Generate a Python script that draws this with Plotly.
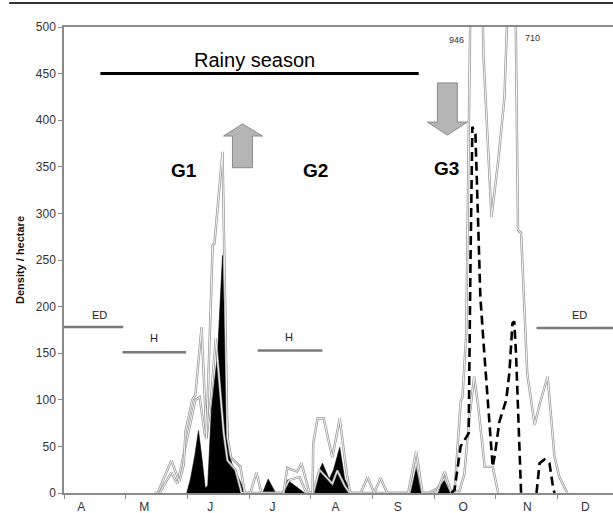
import plotly.graph_objects as go

# x values are in months since 1 April (0 = start of April, 1 = start of May, ...)
months = ["A", "M", "J", "J", "A", "S", "O", "N", "D"]
month_label_pos = [0.28, 1.30, 2.37, 3.38, 4.40, 5.41, 6.47, 7.51, 8.45]

total_x = [1.47, 1.52, 1.74, 1.87, 1.94, 1.97, 2.08, 2.13, 2.23, 2.31, 2.41, 2.44, 2.57, 2.65,
           2.71, 2.81, 2.86, 2.93, 3.02, 3.12, 3.20, 3.56, 3.62, 3.69, 3.78, 3.85, 3.98, 4.03,
           4.04, 4.11, 4.21, 4.35, 4.47, 4.58, 4.64, 4.81, 4.92, 5.03, 5.13, 5.24, 5.58, 5.71,
           5.81, 6.04, 6.17, 6.28, 6.33, 6.43, 6.46, 6.52, 6.67, 6.80, 6.93, 7.04, 7.14, 7.29,
           7.36, 7.41, 7.51, 7.63, 7.71, 7.84, 7.95, 8.03, 8.16]
total_y = [0, 0, 35, 12, 30, 66, 100, 105, 178, 60, 266, 268, 366, 60,
           38, 32, 28, 0, 0, 22, 0, 0, 27, 25, 23, 32, 0, 0,
           53, 80, 80, 38, 80, 22, 0, 0, 17, 0, 16, 0, 0, 45,
           0, 0, 23, 0, 0, 98, 103, 170, 946, 470, 296, 357, 424, 710,
           282, 279, 128, 73, 95, 125, 40, 17, 0]

second_x = [1.55, 1.74, 1.84, 1.95, 2.13, 2.20, 2.28, 2.31, 2.39, 2.46, 2.50, 2.59, 2.65, 2.78,
            2.88, 3.54, 3.65, 3.82, 3.93, 4.04, 4.14, 4.24, 4.35, 4.43, 4.55, 4.63, 5.60, 5.71,
            5.81, 5.92, 6.05, 6.17, 6.26, 6.41, 6.49, 6.57, 6.65, 6.72, 6.82, 6.95, 7.04]
second_y = [0, 22, 10, 45, 100, 103, 64, 58, 107, 166, 135, 64, 35, 25,
            0, 0, 14, 17, 0, 0, 25, 18, 10, 24, 8, 0, 0, 33,
            0, 0, 5, 16, 3, 2, 20, 80, 125, 90, 28, 28, 0]

black_x = [1.99, 2.05, 2.12, 2.18, 2.24, 2.29, 2.33, 2.39, 2.49, 2.57, 2.62, 2.67, 2.73, 2.80,
           2.86, 2.93, 3.22, 3.31, 3.43, 3.56, 3.62, 3.74, 3.90, 4.06, 4.11, 4.19, 4.30, 4.37,
           4.47, 4.55, 4.66, 5.60, 5.66, 5.71, 5.76, 5.81, 6.07, 6.13, 6.17, 6.22, 6.28]
black_y = [0, 15, 40, 67, 35, 5, 8, 90, 150, 255, 150, 43, 30, 20,
           12, 0, 0, 15, 0, 0, 14, 8, 0, 0, 20, 32, 15, 25,
           49, 15, 0, 0, 20, 27, 20, 0, 0, 12, 15, 10, 0]

dashed_x = [6.28, 6.33, 6.43, 6.56, 6.59, 6.62, 6.67, 6.75, 6.81, 6.93, 6.95, 6.98, 7.06, 7.17,
            7.22, 7.27, 7.30, 7.33, 7.41, None, 7.66, 7.71, 7.79, 7.87, 7.92, 7.95]
dashed_y = [0, 3, 50, 64, 250, 393, 385, 210, 153, 39, 28, 39, 77, 100,
            129, 182, 184, 146, 0, None, 0, 32, 36, 32, 10, 0]

GRAY = "#959595"
AXIS = "#8a8a8a"
FONT = "Arial, Liberation Sans, sans-serif"

fig = go.Figure()

fig.add_trace(go.Scatter(x=black_x, y=black_y, mode="lines", fill="tozeroy",
                         fillcolor="black", line=dict(color="black", width=0.6),
                         hoverinfo="skip"))
for xs, ys in [(second_x, second_y), (total_x, total_y)]:
    fig.add_trace(go.Scatter(x=xs, y=ys, mode="lines",
                             line=dict(color=GRAY, width=2.4), hoverinfo="skip"))
    fig.add_trace(go.Scatter(x=xs, y=ys, mode="lines",
                             line=dict(color="white", width=0.9), hoverinfo="skip"))
fig.add_trace(go.Scatter(x=dashed_x, y=dashed_y, mode="lines", connectgaps=False,
                         line=dict(color="black", width=2.6, dash="9px,5px"),
                         hoverinfo="skip"))

shapes = [
    # rainy season bar
    dict(type="line", x0=0.59, x1=5.75, y0=450, y1=450, line=dict(color="black", width=3)),
    # ED / H bars
    dict(type="line", x0=0, x1=0.96, y0=178, y1=178, line=dict(color="#7a7a7a", width=2.5)),
    dict(type="line", x0=0.95, x1=1.98, y0=151, y1=151, line=dict(color="#7a7a7a", width=2.5)),
    dict(type="line", x0=3.14, x1=4.19, y0=153, y1=153, line=dict(color="#7a7a7a", width=2.5)),
    dict(type="line", x0=7.66, x1=8.9, y0=177, y1=177, line=dict(color="#7a7a7a", width=2.5)),
    # up arrow
    dict(type="path",
         path="M 2.894 396 L 3.218 383 L 3.055 383 L 3.055 349 L 2.731 349 L 2.731 383 L 2.585 383 Z",
         fillcolor="#b5b5b5", line=dict(color="#8a8a8a", width=1)),
    # down arrow
    dict(type="path",
         path="M 6.053 440 L 6.377 440 L 6.377 398 L 6.540 398 L 6.215 384 L 5.891 398 L 6.053 398 Z",
         fillcolor="#b5b5b5", line=dict(color="#8a8a8a", width=1)),
    # page rule at top
    dict(type="line", xref="paper", yref="paper", x0=-0.1, x1=1.0, y0=1.0515, y1=1.0515,
         line=dict(color="#333333", width=2)),
]

annotations = [
    dict(x=3.09, y=465, text="Rainy season", showarrow=False,
         font=dict(size=20, color="black", family=FONT)),
    dict(x=1.945, y=346, text="<b>G1</b>", showarrow=False, font=dict(size=19, color="black", family=FONT)),
    dict(x=4.084, y=346, text="<b>G2</b>", showarrow=False, font=dict(size=19, color="black", family=FONT)),
    dict(x=6.207, y=348, text="<b>G3</b>", showarrow=False, font=dict(size=19, color="black", family=FONT)),
    dict(x=6.36, y=486, text="946", showarrow=False, font=dict(size=9, color="#333", family=FONT)),
    dict(x=7.59, y=488, text="710", showarrow=False, font=dict(size=9, color="#333", family=FONT)),
    dict(x=0.575, y=191, text="ED", showarrow=False, font=dict(size=11, color="#222", family=FONT)),
    dict(x=1.467, y=166, text="H", showarrow=False, font=dict(size=11, color="#222", family=FONT)),
    dict(x=3.655, y=167, text="H", showarrow=False, font=dict(size=11, color="#222", family=FONT)),
    dict(x=8.355, y=191, text="ED", showarrow=False, font=dict(size=11, color="#222", family=FONT)),
]

fig.update_layout(
    width=613, height=513,
    margin=dict(l=64, r=0, t=27, b=20),
    paper_bgcolor="white", plot_bgcolor="white",
    showlegend=False,
    shapes=shapes, annotations=annotations,
    font=dict(family=FONT, size=11, color="#333"),
    xaxis=dict(range=[0, 8.9], showgrid=False, zeroline=False,
               showline=True, linecolor=AXIS, linewidth=1.5, mirror=True,
               tickmode="array", tickvals=month_label_pos, ticktext=months,
               ticks="", ticklabelstandoff=2,
               minor=dict(tickmode="linear", tick0=0, dtick=1, ticks="outside",
                          ticklen=4, tickcolor=AXIS, tickwidth=1, showgrid=False),
               tickfont=dict(size=12, color="#333", family=FONT)),
    yaxis=dict(range=[0, 500], showgrid=False, zeroline=False,
               showline=True, linecolor=AXIS, linewidth=1.5,
               tickmode="array", tickvals=list(range(0, 501, 50)),
               ticks="outside", ticklen=4, tickcolor=AXIS,
               tickfont=dict(size=12, color="#333", family=FONT),
               title=dict(text="<b>Density / hectare</b>", standoff=9,
                          font=dict(size=11, color="#111", family=FONT))),
)

fig.write_html("out.html", config={"displayModeBar": False},
               post_script="document.body.style.margin='0';document.body.style.overflow='hidden';")
